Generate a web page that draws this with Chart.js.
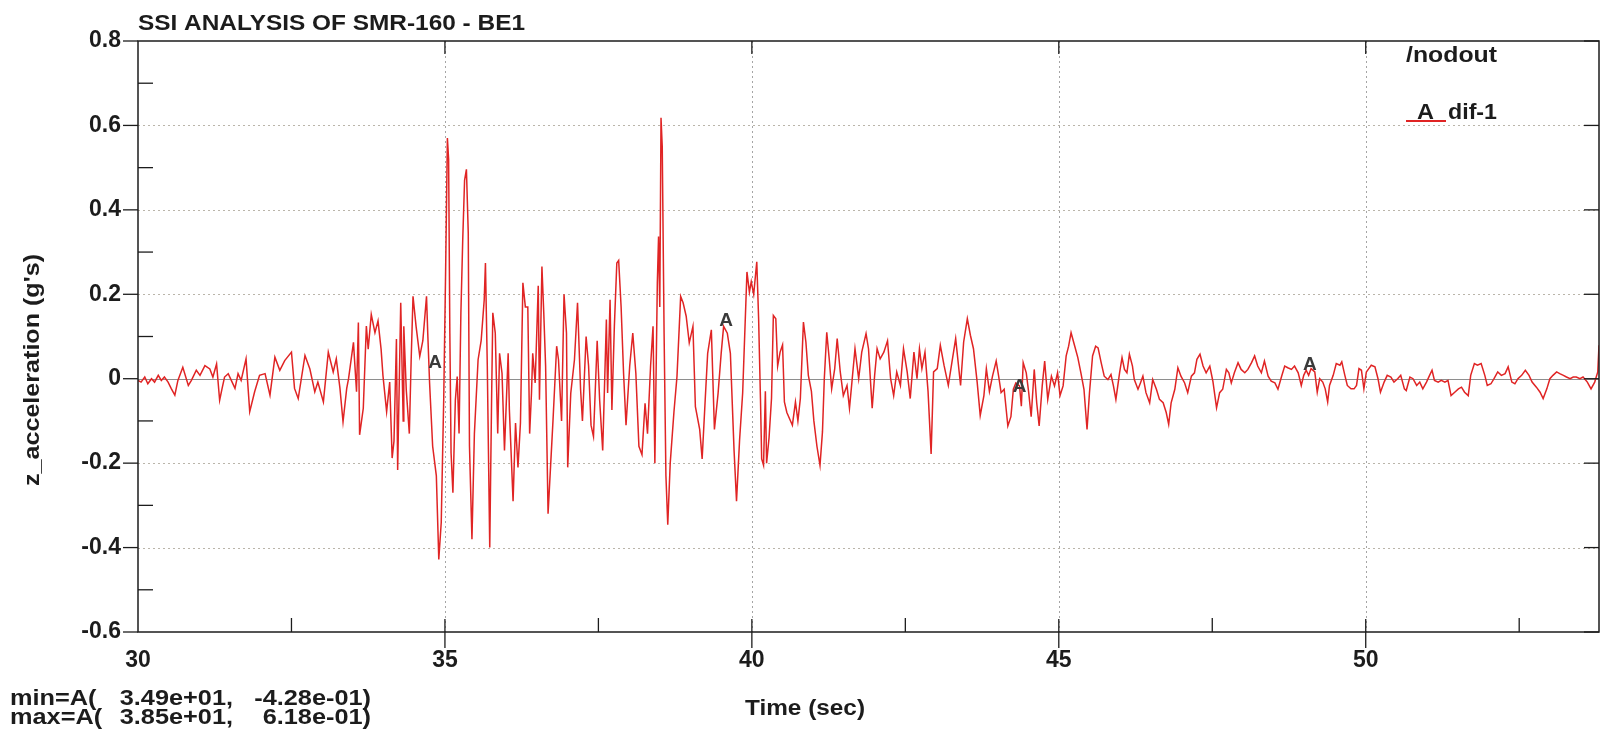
<!DOCTYPE html>
<html>
<head>
<meta charset="utf-8">
<title>SSI ANALYSIS OF SMR-160 - BE1</title>
<script src="https://cdn.jsdelivr.net/npm/chart.js@4.4.1/dist/chart.umd.min.js"></script>
<style>
  html, body { margin: 0; padding: 0; background: #fff; }
  canvas { display: block; }
</style>
</head>
<body>
<canvas id="accelChart" width="1606" height="735"></canvas>
<script>
// time (sec) and z acceleration (g's)
const timeSec = [
  30.00, 30.05, 30.11, 30.16, 30.22, 30.27, 30.33, 30.38, 30.43, 30.49,
  30.54, 30.60, 30.65, 30.73, 30.82, 30.87, 30.95, 31.01, 31.09, 31.17,
  31.22, 31.28, 31.33, 31.37, 31.41, 31.47, 31.52, 31.58, 31.63, 31.68,
  31.76, 31.82, 31.90, 31.98, 32.07, 32.15, 32.23, 32.31, 32.39, 32.50,
  32.55, 32.61, 32.72, 32.80, 32.88, 32.93, 33.02, 33.10, 33.18, 33.23,
  33.29, 33.34, 33.40, 33.43, 33.51, 33.56, 33.59, 33.61, 33.67, 33.72,
  33.75, 33.80, 33.86, 33.91, 33.96, 33.99, 34.05, 34.10, 34.14, 34.17,
  34.21, 34.23, 34.28, 34.32, 34.33, 34.37, 34.42, 34.45, 34.48, 34.53,
  34.59, 34.64, 34.70, 34.72, 34.75, 34.80, 34.86, 34.90, 34.94, 34.98,
  35.01, 35.04, 35.06, 35.08, 35.10, 35.13, 35.17, 35.20, 35.23, 35.26,
  35.29, 35.32, 35.35, 35.38, 35.40, 35.44, 35.48, 35.54, 35.59, 35.64,
  35.66, 35.69, 35.73, 35.76, 35.78, 35.82, 35.86, 35.89, 35.93, 35.97,
  36.03, 36.05, 36.11, 36.15, 36.19, 36.23, 36.27, 36.31, 36.35, 36.38,
  36.41, 36.43, 36.47, 36.52, 36.54, 36.58, 36.61, 36.64, 36.68, 36.72,
  36.76, 36.82, 36.85, 36.90, 36.94, 36.98, 37.00, 37.05, 37.11, 37.16,
  37.21, 37.24, 37.30, 37.34, 37.38, 37.42, 37.48, 37.52, 37.57, 37.63,
  37.65, 37.69, 37.72, 37.76, 37.80, 37.83, 37.87, 37.91, 37.95, 38.01,
  38.06, 38.11, 38.16, 38.21, 38.26, 38.30, 38.35, 38.39, 38.42, 38.46,
  38.48, 38.50, 38.52, 38.54, 38.57, 38.60, 38.63, 38.67, 38.73, 38.78,
  38.84, 38.88, 38.93, 38.98, 39.04, 39.08, 39.15, 39.19, 39.24, 39.28,
  39.34, 39.39, 39.45, 39.50, 39.54, 39.60, 39.65, 39.71, 39.75, 39.80,
  39.85, 39.92, 39.96, 39.99, 40.03, 40.08, 40.11, 40.14, 40.16, 40.19,
  40.22, 40.24, 40.28, 40.32, 40.35, 40.39, 40.42, 40.46, 40.50, 40.53,
  40.57, 40.63, 40.66, 40.71, 40.75, 40.79, 40.84, 40.88, 40.92, 40.97,
  41.01, 41.06, 41.11, 41.15, 41.18, 41.22, 41.26, 41.30, 41.35, 41.39,
  41.44, 41.49, 41.55, 41.59, 41.63, 41.68, 41.74, 41.79, 41.86, 41.90,
  41.96, 42.00, 42.04, 42.09, 42.15, 42.21, 42.26, 42.31, 42.36, 42.42,
  42.47, 42.53, 42.58, 42.64, 42.69, 42.73, 42.77, 42.82, 42.87, 42.92,
  42.96, 43.02, 43.07, 43.13, 43.20, 43.26, 43.32, 43.40, 43.45, 43.51,
  43.56, 43.61, 43.67, 43.72, 43.78, 43.82, 43.87, 43.92, 43.98, 44.02,
  44.06, 44.11, 44.17, 44.22, 44.26, 44.30, 44.36, 44.39, 44.42, 44.47,
  44.51, 44.55, 44.60, 44.64, 44.68, 44.73, 44.77, 44.82, 44.88, 44.93,
  44.98, 45.02, 45.07, 45.12, 45.16, 45.20, 45.26, 45.31, 45.36, 45.41,
  45.46, 45.50, 45.55, 45.60, 45.64, 45.69, 45.74, 45.80, 45.85, 45.89,
  45.93, 45.99, 46.03, 46.07, 46.11, 46.15, 46.20, 46.23, 46.29, 46.33,
  46.37, 46.42, 46.48, 46.53, 46.59, 46.64, 46.70, 46.75, 46.79, 46.83,
  46.89, 46.94, 46.99, 47.05, 47.10, 47.16, 47.21, 47.25, 47.30, 47.35,
  47.40, 47.46, 47.51, 47.57, 47.62, 47.67, 47.73, 47.77, 47.81, 47.86,
  47.92, 47.97, 48.03, 48.08, 48.14, 48.19, 48.24, 48.30, 48.35, 48.41,
  48.46, 48.52, 48.57, 48.63, 48.68, 48.73, 48.79, 48.84, 48.90, 48.95,
  48.99, 49.03, 49.07, 49.11, 49.17, 49.21, 49.25, 49.30, 49.34, 49.38,
  49.41, 49.47, 49.52, 49.58, 49.61, 49.66, 49.70, 49.76, 49.81, 49.85,
  49.89, 49.93, 49.97, 50.01, 50.05, 50.09, 50.15, 50.20, 50.24, 50.30,
  50.35, 50.41, 50.46, 50.52, 50.57, 50.63, 50.66, 50.72, 50.77, 50.83,
  50.88, 50.93, 50.99, 51.04, 51.08, 51.12, 51.18, 51.23, 51.29, 51.34,
  51.39, 51.45, 51.51, 51.56, 51.61, 51.67, 51.71, 51.77, 51.82, 51.88,
  51.94, 51.98, 52.04, 52.09, 52.15, 52.21, 52.27, 52.32, 52.38, 52.43,
  52.48, 52.54, 52.60, 52.66, 52.71, 52.78, 52.84, 52.89, 52.95, 53.00,
  53.05, 53.11, 53.16, 53.22, 53.27, 53.33, 53.38, 53.43, 53.49, 53.54,
  53.61, 53.67, 53.73, 53.78, 53.80
];

const zAccel = [
  -0.004, -0.008, 0.004, -0.012, 0, -0.008, 0.008, -0.004, 0.004, -0.008,
  -0.023, -0.039, -0.004, 0.027, -0.016, -0.004, 0.020, 0.008, 0.031, 0.023,
  0.004, 0.035, -0.051, -0.023, 0.004, 0.012, -0.004, -0.023, 0.012, -0.004,
  0.047, -0.078, -0.031, 0.008, 0.012, -0.039, 0.051, 0.020, 0.043, 0.063,
  -0.023, -0.047, 0.055, 0.023, -0.031, -0.008, -0.055, 0.063, 0.016, 0.047,
  -0.023, -0.102, -0.023, 0, 0.086, -0.031, 0.133, -0.133, -0.070, 0.125,
  0.070, 0.152, 0.109, 0.137, 0.070, 0.008, -0.078, -0.008, -0.188, -0.148,
  0.094, -0.216, 0.180, -0.100, 0.124, -0.026, -0.130, 0.045, 0.195, 0.124,
  0.053, 0.090, 0.195, 0.108, -0.010, -0.160, -0.230, -0.428, -0.340, -0.050,
  0.243, 0.570, 0.520, 0.108, -0.176, -0.270, -0.050, 0.005, -0.130, 0.156,
  0.330, 0.470, 0.496, 0.345, -0.160, -0.380, -0.130, 0.045, 0.090, 0.187,
  0.274, 0.030, -0.400, -0.050, 0.156, 0.108, -0.130, 0.060, 0.013, -0.170,
  0.060, -0.074, -0.290, -0.105, -0.210, -0.105, 0.227, 0.170, 0.170, -0.130,
  -0.034, 0.060, -0.010, 0.220, -0.050, 0.266, 0.156, 0.030, -0.320, -0.210,
  -0.100, 0.077, 0.045, -0.100, 0.200, 0.108, -0.210, -0.034, 0.045, 0.180,
  -0.026, -0.100, 0.100, 0.030, -0.110, -0.137, 0.090, -0.050, -0.170, 0.140,
  -0.034, 0.187, -0.074, 0.124, 0.274, 0.280, 0.170, 0.013, -0.110, 0.030,
  0.108, 0.013, -0.160, -0.180, -0.058, -0.130, 0.030, 0.124, -0.200, 0.227,
  0.337, 0.170, 0.618, 0.550, 0.108, -0.230, -0.346, -0.200, -0.080, 0.005,
  0.195, 0.180, 0.148, 0.085, 0.124, -0.066, -0.120, -0.190, -0.050, 0.060,
  0.116, -0.120, -0.034, 0.060, 0.124, 0.108, 0.060, -0.170, -0.290, -0.145,
  -0.034, 0.253, 0.205, 0.230, 0.200, 0.277, 0.142, -0.047, -0.190, -0.205,
  -0.030, -0.200, -0.140, -0.047, 0.150, 0.142, 0.030, 0.063, 0.080, -0.055,
  -0.080, -0.100, -0.110, -0.055, -0.100, -0.047, 0.134, 0.087, 0.008, -0.030,
  -0.100, -0.160, -0.205, -0.126, 0, 0.110, 0.047, -0.024, 0.024, 0.095,
  0.016, -0.040, -0.016, -0.070, -0.008, 0.071, 0, 0.063, 0.107, 0.071,
  -0.070, 0.008, 0.071, 0.047, 0.063, 0.090, 0, -0.040, 0.016, -0.016,
  0.071, 0.016, -0.047, 0.063, 0, 0.071, 0.024, 0.063, -0.030, -0.178,
  0.016, 0.024, 0.079, 0.032, -0.016, 0.040, 0.095, -0.016, 0.087, 0.142,
  0.103, 0.071, -0.008, -0.087, -0.040, 0.024, -0.030, 0.006, 0.042, 0.006,
  -0.033, -0.025, -0.112, -0.090, -0.025, -0.010, -0.017, -0.065, 0.038, 0.014,
  -0.033, -0.090, 0.022, -0.057, -0.112, -0.017, 0.042, -0.049, 0.006, -0.017,
  0.014, -0.040, -0.017, 0.054, 0.077, 0.109, 0.077, 0.050, 0.014, -0.025,
  -0.120, -0.033, 0.054, 0.077, 0.073, 0.038, 0.006, -0.002, 0.010, -0.017,
  -0.049, 0.014, 0.050, 0.022, 0.014, 0.058, 0.030, -0.002, -0.025, -0.010,
  0.006, -0.033, -0.057, -0.002, -0.025, -0.049, -0.057, -0.080, -0.108, -0.057,
  -0.025, 0.026, 0.006, -0.010, -0.033, 0.006, 0.014, 0.046, 0.058, 0.030,
  0.014, 0.030, -0.006, -0.069, -0.033, -0.025, 0.022, 0.014, -0.010, 0.014,
  0.038, 0.022, 0.014, 0.022, 0.038, 0.054, 0.030, 0.014, 0.042, 0.006,
  -0.006, -0.010, -0.025, 0.006, 0.030, 0.026, 0.022, 0.030, 0.014, -0.016,
  0.008, 0.020, 0.008, 0.024, 0.016, -0.032, 0, -0.008, -0.024, -0.055,
  -0.016, 0.008, 0.036, 0.032, 0.040, 0.008, -0.016, -0.024, -0.024, -0.016,
  0.024, 0.020, -0.024, 0.016, 0.024, 0.032, 0.028, 0, -0.032, -0.008,
  0.008, 0.004, -0.008, 0, 0.008, -0.024, -0.028, 0.004, 0, -0.016,
  -0.008, -0.024, -0.008, 0.008, 0.020, -0.004, -0.008, -0.004, -0.008, -0.004,
  -0.040, -0.032, -0.024, -0.020, -0.032, -0.040, 0.008, 0.036, 0.032, 0.036,
  0.008, -0.016, -0.012, 0, 0.016, 0.008, 0.012, 0.028, -0.008, -0.012,
  0, 0.008, 0.020, 0.008, -0.008, -0.020, -0.032, -0.047, -0.024, 0,
  0.008, 0.016, 0.012, 0.008, 0.004, 0, 0.004, 0.004, 0, 0.004,
  -0.008, -0.024, -0.008, 0.016, 0.079
];

const xTicks = [30, 35, 40, 45, 50];
const yTicks = [-0.6, -0.4, -0.2, 0, 0.2, 0.4, 0.6, 0.8];

// curve label "A" positions along the trace
const markerTime = [34.84, 39.58, 44.36, 49.09];
const markerValue = [0.038, 0.137, -0.020, 0.033];

const FONT = '"Liberation Sans", Arial, sans-serif';
const INK = '#1c1c1c';
const RED = 'rgb(224, 36, 36)';

if (timeSec.length !== zAccel.length) console.warn('length mismatch', timeSec.length, zAccel.length);

const points = timeSec.map((t, i) => ({ x: t, y: zAccel[i] }));

// min / max text like the LS-PrePost footer
function sci(v) {
  return v.toExponential(2).replace(/e([+-])(\d)$/, 'e$10$2');
}
let iMin = 0, iMax = 0;
zAccel.forEach((v, i) => {
  if (v < zAccel[iMin]) iMin = i;
  if (v > zAccel[iMax]) iMax = i;
});

// text drawn with a horizontal squeeze/stretch to match the scan
function drawText(ctx, text, x, y, o) {
  ctx.save();
  ctx.font = `bold ${o.size}px ${FONT}`;
  const w = ctx.measureText(text).width;
  const sx = o.width ? o.width / w : (o.sx || 1);
  ctx.translate(x, y);
  if (o.rotate) ctx.rotate(o.rotate);
  ctx.scale(sx, 1);
  ctx.fillStyle = o.color || INK;
  ctx.textAlign = o.align || 'left';
  ctx.textBaseline = o.baseline || 'alphabetic';
  ctx.fillText(text, 0, 0);
  ctx.restore();
}

function seg(ctx, x1, y1, x2, y2) {
  ctx.beginPath();
  ctx.moveTo(x1, y1);
  ctx.lineTo(x2, y2);
  ctx.stroke();
}

const framePlugin = {
  id: 'frame',
  beforeDatasetsDraw(chart) {
    const { ctx, chartArea: a, scales: { x, y } } = chart;
    ctx.save();
    ctx.lineWidth = 1;
    // dotted grid
    ctx.setLineDash([2, 3]);
    ctx.strokeStyle = '#bab5aa';
    yTicks.forEach(v => {
      if (v === 0 || v === yTicks[0] || v === yTicks[yTicks.length - 1]) return;
      const py = Math.round(y.getPixelForValue(v)) + 0.5;
      seg(ctx, a.left, py, a.right, py);
    });
    ctx.strokeStyle = '#a5a5a5';
    xTicks.forEach(v => {
      if (v === xTicks[0]) return;
      const px = Math.round(x.getPixelForValue(v)) + 0.5;
      seg(ctx, px, a.top, px, a.bottom);
    });
    // zero line
    ctx.setLineDash([]);
    ctx.strokeStyle = '#8e8e8e';
    const p0 = Math.round(y.getPixelForValue(0)) + 0.5;
    seg(ctx, a.left, p0, a.right, p0);
    ctx.restore();
  },
  afterDatasetsDraw(chart) {
    const { ctx, chartArea: a, scales: { x, y } } = chart;
    ctx.save();
    ctx.strokeStyle = INK;
    ctx.lineWidth = 1.5;
    ctx.strokeRect(a.left, a.top, a.right - a.left, a.bottom - a.top);

    ctx.lineWidth = 1.3;
    yTicks.forEach((v, i) => {
      const py = y.getPixelForValue(v);
      seg(ctx, a.left - 15, py, a.left, py);
      seg(ctx, a.right - 15, py, a.right, py);
      if (i < yTicks.length - 1) {
        const pm = y.getPixelForValue((v + yTicks[i + 1]) / 2);
        seg(ctx, a.left, pm, a.left + 15, pm);
      }
    });
    xTicks.forEach((v, i) => {
      const px = x.getPixelForValue(v);
      if (i > 0) {
        seg(ctx, px, a.bottom - 13, px, a.bottom + 16);
        seg(ctx, px, a.top, px, a.top + 13);
      }
      const pm = x.getPixelForValue(v + 2.5);
      seg(ctx, pm, a.bottom - 14, pm, a.bottom);
    });

    // curve labels
    markerTime.forEach((t, i) => {
      drawText(ctx, 'A', x.getPixelForValue(t), y.getPixelForValue(markerValue[i]),
        { size: 19, align: 'center', baseline: 'middle', color: '#3a3a3a' });
    });
    ctx.restore();
  },
  afterDraw(chart) {
    const { ctx } = chart;
    drawText(ctx, 'SSI ANALYSIS OF SMR-160 - BE1', 138, 30, { size: 22, width: 387 });
    drawText(ctx, "z_acceleration (g's)", 33, 370,
      { size: 22, width: 232, rotate: -Math.PI / 2, align: 'center', baseline: 'middle' });
    drawText(ctx, 'Time (sec)', 805, 715, { size: 22, width: 120, align: 'center' });

    // legend
    drawText(ctx, '/nodout', 1406, 62, { size: 22, width: 91 });
    ctx.save();
    ctx.strokeStyle = RED;
    ctx.lineWidth = 2;
    seg(ctx, 1406, 121, 1446, 121);
    ctx.restore();
    drawText(ctx, 'A', 1417, 119, { size: 22, width: 17 });
    drawText(ctx, 'dif-1', 1448, 119, { size: 22, width: 49 });

    // min / max footer, values in right-aligned columns
    const sx = 1.15;
    const rows = [['min=A(', iMin, 705], ['max=A(', iMax, 724]];
    rows.forEach(([head, i, by]) => {
      drawText(ctx, head, 10, by, { size: 22, sx });
      drawText(ctx, sci(timeSec[i]) + ',', 233, by, { size: 22, sx, align: 'right' });
      drawText(ctx, sci(zAccel[i]) + ')', 371, by, { size: 22, sx, align: 'right' });
    });
  }
};

const tickFont = { family: FONT, size: 23, weight: 'bold' };

new Chart(document.getElementById('accelChart'), {
  type: 'line',
  data: {
    datasets: [{
      label: 'dif-1',
      data: points,
      borderColor: RED,
      borderWidth: 1.5,
      pointRadius: 0,
      tension: 0,
      fill: false
    }]
  },
  options: {
    responsive: false,
    animation: false,
    devicePixelRatio: 1,
    layout: { padding: { top: 41, right: 7, left: 0, bottom: 0 } },
    plugins: { legend: { display: false }, tooltip: { enabled: false } },
    scales: {
      x: {
        type: 'linear',
        min: 30,
        max: 53.8,
        afterBuildTicks: s => { s.ticks = xTicks.map(v => ({ value: v })); },
        afterFit: s => { s.height = 103; },
        grid: { display: false, drawTicks: false },
        border: { display: false },
        ticks: {
          padding: 15,
          font: tickFont,
          color: INK,
          maxRotation: 0,
          autoSkip: false,
          callback: v => String(v)
        }
      },
      y: {
        type: 'linear',
        min: -0.6,
        max: 0.8,
        afterBuildTicks: s => { s.ticks = yTicks.map(v => ({ value: v })); },
        afterFit: s => { s.width = 138; },
        grid: { display: false, drawTicks: false },
        border: { display: false },
        ticks: {
          padding: 17,
          font: tickFont,
          color: INK,
          callback: v => (Math.abs(v) < 1e-9 ? '0' : String(Math.round(v * 10) / 10))
        }
      }
    }
  },
  plugins: [framePlugin]
});
</script>
</body>
</html>
